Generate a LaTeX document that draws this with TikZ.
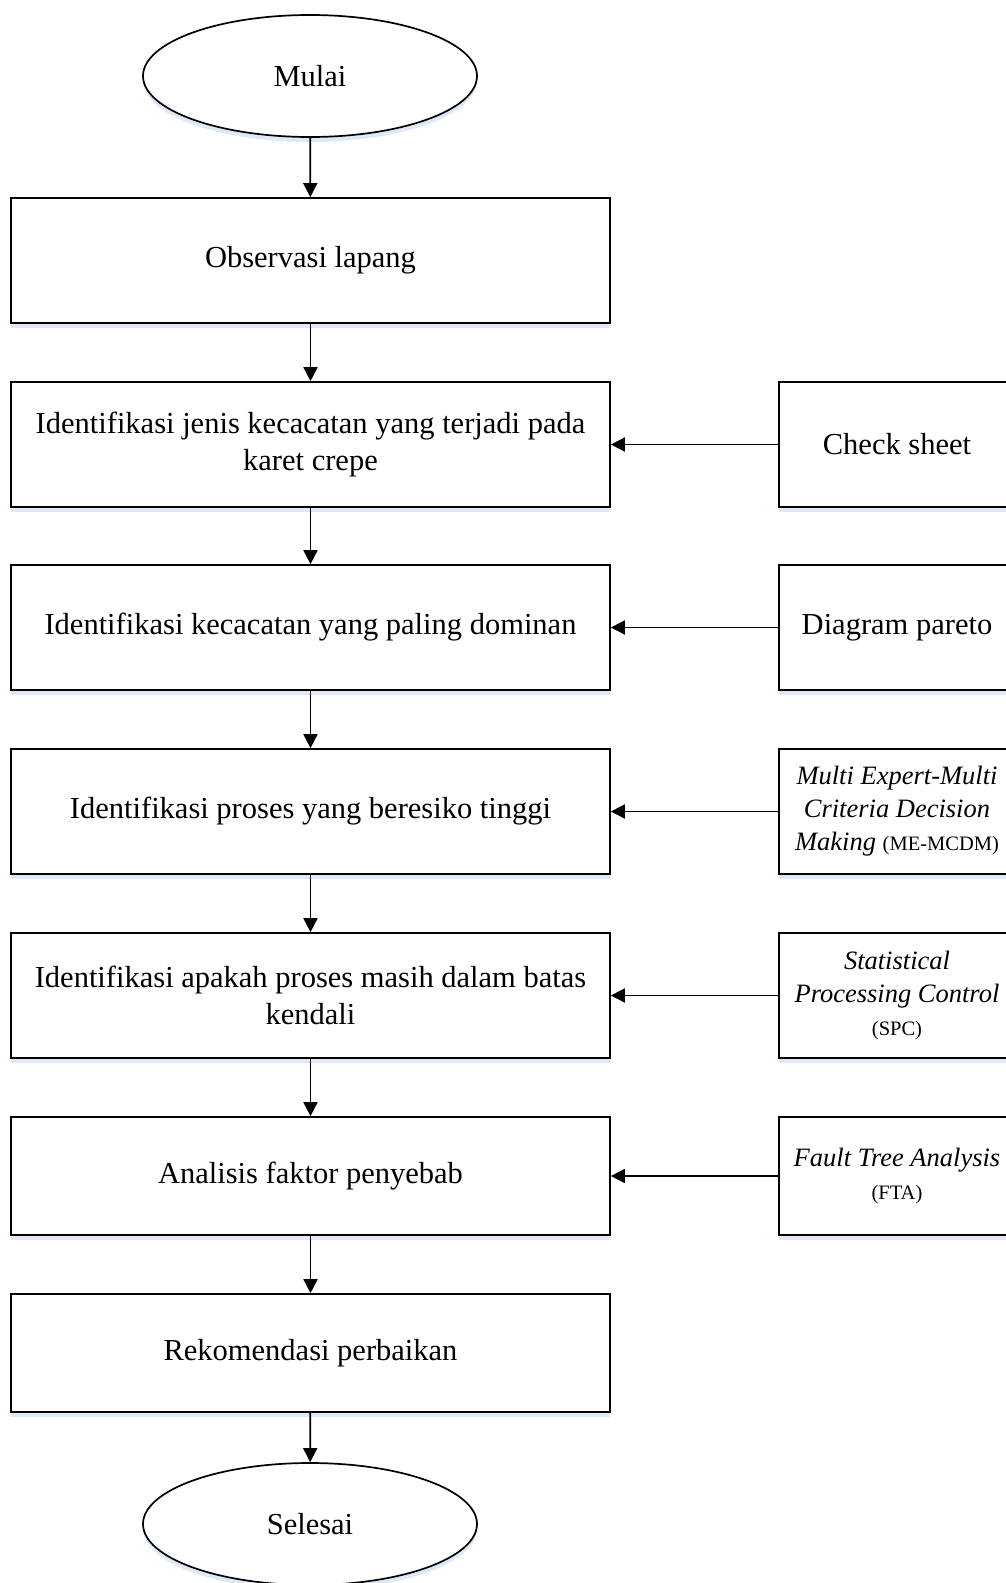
\documentclass[tikz,border=0pt]{standalone}
\usepackage{fontspec}
\setmainfont{Liberation Serif}
\usetikzlibrary{shapes.geometric,arrows.meta,shadows}

\definecolor{glow}{RGB}{222,232,246}

\tikzset{
  every picture/.style={x=1pt,y=-1pt},
  flow/.style={line width=1.7pt, draw=black},
  soft/.style={drop shadow={fill=glow, opacity=1, shadow xshift=0pt, shadow yshift=-5pt}},
  bigtext/.style={font=\fontsize{30.5}{36.5}\selectfont},
  procbox/.style={flow, soft, fill=white, rectangle, minimum width=599pt, inner sep=0pt,
    align=center, bigtext},
  toolbox/.style={flow, soft, fill=white, rectangle, minimum width=236pt, inner sep=0pt,
    align=center, font=\fontsize{26.5}{33}\selectfont},
  terminal/.style={flow, soft, fill=white, ellipse, minimum width=334pt, minimum height=122pt,
    inner sep=0pt, bigtext},
  link/.style={flow, -{Triangle[length=14pt,width=14pt]}},
}
\newcommand{\abbr}[1]{{\fontsize{20.5}{33}\selectfont(#1)}}

\begin{document}
\begin{tikzpicture}
  \useasboundingbox (0,0) rectangle (1006,1583);
  \fill[white] (0,0) rectangle (1006,1583);
  \clip (0,0) rectangle (1006,1583);

  % main column
  \node[terminal] (start) at (310,76) {Mulai};
  \node[procbox, minimum height=125pt] (obs) at (310.5,260.5) {Observasi lapang};
  \node[procbox, minimum height=125pt] (jenis) at (310.5,444.5)
    {Identifikasi jenis kecacatan yang terjadi pada\\karet crepe};
  \node[procbox, minimum height=125pt] (dominan) at (310.5,627.5)
    {Identifikasi kecacatan yang paling dominan};
  \node[procbox, minimum height=125pt] (risiko) at (310.5,811.5)
    {Identifikasi proses yang beresiko tinggi};
  \node[procbox, minimum height=125pt] (kendali) at (310.5,995.5)
    {Identifikasi apakah proses masih dalam batas\\kendali};
  \node[procbox, minimum height=118pt] (faktor) at (310.5,1176) {Analisis faktor penyebab};
  \node[procbox, minimum height=118pt] (rekom) at (310.5,1353) {Rekomendasi perbaikan};
  \node[terminal] (end) at (310,1524) {Selesai};

  % method column
  \node[toolbox, bigtext, minimum height=125pt] (check) at (897,444.5) {Check sheet};
  \node[toolbox, bigtext, minimum height=125pt] (pareto) at (897,627.5) {Diagram pareto};
  \node[toolbox, minimum height=125pt] (mcdm) at (897,811.5)
    {\textit{Multi Expert-Multi}\\\textit{Criteria Decision}\\\textit{Making} \abbr{ME-MCDM}};
  \node[toolbox, minimum height=125pt] (spc) at (897,995.5)
    {\textit{Statistical}\\\textit{Processing Control}\\\abbr{SPC}};
  \node[toolbox, minimum height=118pt] (fta) at (897,1176)
    {\textit{Fault Tree Analysis}\\\abbr{FTA}};

  % flow arrows
  \draw[link] (start) -- (obs);
  \draw[link] (obs) -- (jenis);
  \draw[link] (jenis) -- (dominan);
  \draw[link] (dominan) -- (risiko);
  \draw[link] (risiko) -- (kendali);
  \draw[link] (kendali) -- (faktor);
  \draw[link] (faktor) -- (rekom);
  \draw[link] (rekom) -- (end);

  % method arrows
  \draw[link] (check) -- (jenis);
  \draw[link] (pareto) -- (dominan);
  \draw[link] (mcdm) -- (risiko);
  \draw[link] (spc) -- (kendali);
  \draw[link] (fta) -- (faktor);
\end{tikzpicture}
\end{document}
